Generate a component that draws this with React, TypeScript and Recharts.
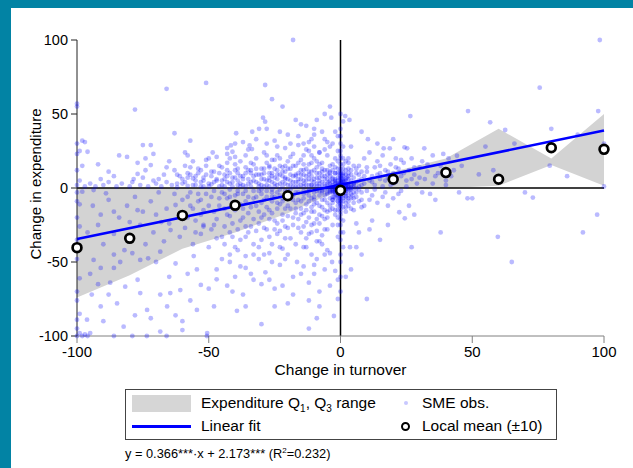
import React from 'react';
import {
  ComposedChart,
  Area,
  Line,
  Scatter,
  XAxis,
  YAxis,
  ReferenceLine,
} from 'recharts';

// Q1..Q3 band and local means, read every 20 points of turnover
const bandX = [-100, -80, -60, -40, -20, 0, 20, 40, 60, 80, 100];
const bandLow = [-74, -59, -41, -30, -17, -1, 0, 0, 1.5, 15.5, 1.5];
const bandHigh = [0, 0, 0, 0, 0, 1, 11, 20, 40, 20, 50];
const meanY = [-40.3, -34, -18.5, -11.7, -5.2, -1.6, 5.9, 10.4, 5.9, 27.2, 26.1];

// linear fit end points
const fitX = [-100, 100];
const fitY = [-34.4, 38.8];

const xTicks = [-100, -50, 0, 50, 100];
const yTicks = [-100, -50, 0, 50, 100];

const obsLeftUpper = [
  [-100, 57], [-100, 55], [-98, 32], [-97, 31], [-100, 30], [-99, 25], [-96, 24.5], [-100, 23], [-98, 15], [-100, 12],
  [-99, 5], [-100, 2], [-97, 1], [-95, 3], [-93, 1], [-78, 53], [-66, 67], [-51, 71], [-63, 37], [-57, 32],
  [-75, 29], [-72, 29], [-71, 23], [-81, 21], [-74, 20], [-59, 24], [-58, 22], [-50, 20], [-77, 17], [-72, 15.5],
  [-66, 14], [-57, 14], [-74, 12], [-63, 12], [-51, 15], [-51, 9], [-77, 9.5], [-67, 9], [-62, 9], [-61, 8],
  [-58, 7], [-56, 6.5], [-78.5, 6], [-75, 7], [-71, 5], [-90, 2], [-88, 4], [-85, 1], [-83, 3], [-80, 1],
  [-79, 4], [-76, 2], [-73, 1], [-70, 3], [-68, 1], [-66, 4], [-64, 2], [-62, 0.5], [-60, 3], [-58, 1.5],
  [-55, 2], [-53, 4], [-52, 1], [-49, 2.5], [-47, 5], [-46, 1], [-91, 6], [-86, 8], [-69, 6], [-54, 10],
  [-48, 11], [-65, 18], [-88, 11], [-92, 16], [-84, 22],
];

const obsMidUpper = [
  [-18, 100], [-28.6, 69.6], [-29.4, 47.5], [-28.6, 44.8], [-39.6, 37], [-33.5, 38], [-30.9, 40], [-3.5, 47.5], [1.8, 48.6], [-41.6, 28.8],
  [-34.5, 28.8], [-33.6, 26.3], [-8, 24], [-48.5, 24], [-47, 21], [-43, 23], [-41, 24.5], [-40, 21], [-45, 14], [-44, 6],
  [-43, 17], [-42, 3], [-42, 10], [-41, 1], [-40, 12], [-39, 5], [-38, 18], [-38, 8], [-37, 2], [-36, 14],
  [-36, 22], [-35, 6], [-34, 10], [-34, 1], [-33, 16], [-32, 4], [-32, 20], [-31, 9], [-30, 2], [-30, 13],
  [-29, 24], [-29, 6], [-28, 17], [-27, 1], [-27, 10], [-26, 4], [-26, 19], [-25, 13], [-25, 7], [-24, 2],
  [-24, 22], [-23, 9], [-23, 15], [-22, 4], [-22, 1], [-21, 11], [-21, 27], [-20, 6], [-20, 18], [-19, 2],
  [-19, 13], [-18, 8], [-18, 23], [-17, 4], [-17, 15], [-16, 1], [-16, 10], [-15, 19], [-15, 6], [-14, 3],
  [-14, 12], [-13, 8], [-13, 26], [-12, 2], [-12, 16], [-11, 5], [-11, 11], [-10, 1], [-10, 20], [-9, 7],
  [-9, 14], [-8, 3], [-8, 10], [-7, 1], [-7, 17], [-6, 6], [-6, 12], [-5, 3], [-5, 22], [-4, 8],
  [-4, 15], [-3, 2], [-3, 30], [-2, 10], [-2, 5], [-1, 18], [-1, 35], [-2, 38], [-4, 28], [-6, 33],
  [-12, 31], [-16, 29], [-25, 32], [-37, 31], [-20, 36], [-10, 40], [-15, 43],
];

// the thick strip just above and below the zero line
const obsStrip = [
  [-62, 3], [-60, 6], [-58, 10], [-56, 2], [-55, 8], [-53, 12], [-52, 5], [-50, 1], [-49, 8], [-48, 4],
  [-46, 10], [-45, 5], [-44, 1], [-43, 8], [-41, 4], [-40, 7], [-39, 13], [-38, 1], [-37, 6], [-36, 10],
  [-35, 3], [-33, 5], [-32, 9], [-31, 1], [-30, 6], [-29, 10], [-28, 2], [-27, 5], [-26, 8], [-25, 1],
  [-24, 9], [-23, 3], [-22, 11], [-21, 6], [-20, 2], [-19, 5], [-18, 1], [-17, 8], [-16, 4], [-15, 9],
  [-14, 1], [-13, 5], [-12, 9], [-11, 2], [-10, 6], [-9, 1], [-8, 5], [-7, 8], [-6, 3], [-5, 9],
  [-45, -3], [-42, -6], [-39, -4], [-36, -2], [-33, -7], [-30, -4], [-28, -2], [-26, -6], [-24, -3], [-22, -9],
  [-20, -2], [-18, -5], [-16, -8], [-14, -2], [-12, -5], [-10, -8], [-8, -2], [-6, -5], [-4, -3], [-3, -8],
  [-34, 12], [-27, 14], [-21, 15], [-14, 16], [-9, 18], [-7, 13], [-4, 11], [-3, 16], [-2, 20], [-11, 22],
];

const obsLeftLower = [
  [-100, -3], [-100, -9], [-99, -11], [-100, -20], [-99, -26], [-100, -35], [-100, -48], [-99, -61], [-100, -70], [-100, -76],
  [-99, -85], [-100, -89], [-100, -95], [-99, -98], [-100, -100], [-98, -100], [-96, -100], [-95, -98], [-97, -99], [-79, -100],
  [-73.5, -100], [-66, -100], [-50.7, -100], [-98, -2.5], [-93.7, -1.4], [-89, -3.6], [-91, -18], [-86, -16], [-80, -23], [-77, -15],
  [-75, -16], [-68, -23], [-64.5, -28.4], [-62.6, -11.5], [-58, -5.9], [-53, -8], [-52, -26], [-93.7, -48.6], [-91, -54], [-86, -54],
  [-83.6, -50], [-79, -44], [-76, -48.6], [-73, -47.5], [-68.4, -43], [-62.6, -51], [-55.7, -46], [-54.5, -55], [-87.4, -64], [-81.7, -66.7],
  [-76, -71], [-68.4, -72], [-64.6, -71], [-60.8, -69], [-53, -65.5], [-94.4, -72], [-91, -80], [-84.8, -78], [-78, -86], [-73.4, -82.4],
  [-65.8, -80], [-62.6, -86], [-54.5, -82.4], [-96.2, -89], [-90, -90], [-82.3, -93.7], [-68.4, -97], [-60, -96], [-96, -30], [-94, -12],
  [-92, -25], [-90, -38], [-88, -8], [-86, -31], [-84, -20], [-82, -42], [-81, -12], [-79, -33], [-78, -6], [-76, -25],
  [-74, -38], [-72, -9], [-71, -30], [-70, -18], [-69, -3], [-67, -36], [-66, -14], [-65, -24], [-63, -4], [-61, -33],
  [-60, -17], [-59, -27], [-57, -12], [-56, -38], [-55, -22], [-54, -4], [-53, -31], [-52, -15], [-50, -40], [-49, -6],
  [-48, -25], [-47, -34], [-46, -12], [-45, -48], [-86, -45], [-70, -50], [-58, -58], [-47, -55], [-95, -58], [-77, -62],
  [-65, -60], [-50, -68], [-92, -65], [-88, -72], [-72, -88], [-57, -76], [-48, -80], [-86, -100], [-60, -90],
];

const obsMidLower = [
  [-50.6, -98], [-2.5, -86.5], [-39.3, -83], [-37, -72], [-47, -61.7], [-40, -60], [-28.5, -57], [-16.5, -50], [-10, -52], [-3.2, -50],
  [-2, -56], [-14, -40], [-22, -41], [-27, -44], [-44, -4], [-43, -18], [-42, -30], [-41, -10], [-40, -40], [-39, -2],
  [-38, -22], [-37, -14], [-36, -33], [-35, -6], [-34, -26], [-33, -45], [-32, -12], [-31, -2], [-30, -20], [-30, -35],
  [-29, -8], [-28, -28], [-27, -15], [-26, -3], [-26, -38], [-25, -22], [-24, -10], [-24, -31], [-23, -5], [-22, -18],
  [-21, -26], [-21, -2], [-20, -12], [-19, -34], [-19, -7], [-18, -20], [-17, -3], [-17, -14], [-16, -27], [-15, -9],
  [-15, -18], [-14, -4], [-13, -23], [-13, -11], [-12, -2], [-12, -31], [-11, -7], [-11, -16], [-10, -3], [-10, -24],
  [-9, -10], [-9, -36], [-8, -5], [-8, -18], [-7, -2], [-7, -13], [-6, -28], [-6, -8], [-5, -4], [-5, -20],
  [-4, -12], [-4, -44], [-3, -6], [-3, -25], [-2, -15], [-2, -3], [-1, -9], [-1, -33], [-43, -66], [-36, -54],
  [-33, -62], [-31, -48], [-25, -68], [-23, -52], [-20, -78], [-18, -60], [-12, -64], [-8, -70], [-6, -45], [-1, -62],
  [-1, -75], [-30, -92], [-12, -95], [-42, -50],
];

// the dense cloud between -60 and -5
const obsCloud = [
  [-60, -8], [-59, 4], [-59, 15], [-58, -20], [-57, -3], [-57, 9], [-56, -14], [-56, 18], [-55, -30], [-55, 5],
  [-54, -9], [-54, 13], [-53, -18], [-53, 1], [-52, -25], [-52, 7], [-51, -4], [-51, 19], [-50, -12], [-50, 3],
  [-49, -28], [-49, 11], [-48, -16], [-48, -2], [-47, 6], [-47, -21], [-46, 15], [-46, -7], [-45, -33], [-45, 2],
  [-44, -14], [-44, 9], [-44, -26], [-43, 4], [-43, -7], [-43, 12], [-42, -19], [-42, -1], [-42, 20], [-41, -33],
  [-41, 7], [-41, -24], [-40, -5], [-40, 16], [-40, -15], [-39, 2], [-39, -28], [-39, 10], [-38, -11], [-38, -35],
  [-38, 3], [-37, -20], [-37, 8], [-37, -4], [-36, -26], [-36, 1], [-36, -9], [-35, 12], [-35, -17], [-35, -30],
  [-34, 4], [-34, -13], [-34, 17], [-33, -2], [-33, -21], [-33, 8], [-32, -29], [-32, -6], [-32, 13], [-31, -16],
  [-31, 3], [-31, -24], [-30, 9], [-30, -10], [-30, -1], [-44, -38], [-42, -45], [-39, -42], [-36, -46], [-33, -38],
  [-31, -40], [-43, 27], [-40, 30], [-35, 26], [-32, 33], [-38, -53], [-34, -58], [-41, -70], [-36, -80], [-30, -65],
  [-29, -18], [-29, 1], [-29, 13], [-29, -27], [-28, -6], [-28, 5], [-28, 22], [-28, -13], [-27, -33], [-27, 7],
  [-27, -21], [-27, 15], [-26, -9], [-26, -1], [-26, 10], [-26, -17], [-25, -28], [-25, 3], [-25, -6], [-25, 19],
  [-24, -14], [-24, 6], [-24, -24], [-24, 12], [-23, -1], [-23, -11], [-23, 20], [-23, -29], [-22, 8], [-22, -7],
  [-22, -22], [-22, 14], [-21, -14], [-21, 3], [-21, -34], [-21, 7], [-20, -4], [-20, -19], [-20, 13], [-20, -27],
  [-19, -1], [-19, 9], [-19, -14], [-19, 21], [-18, -8], [-18, 4], [-18, -25], [-18, 15], [-17, -17], [-17, 9],
  [-17, -10], [-17, 1], [-16, -3], [-16, -21], [-16, 6], [-16, 17], [-15, -14], [-15, -30], [-15, 2], [-15, 12],
  [-29, -45], [-26, -50], [-23, -40], [-20, -45], [-17, -38], [-28, 30], [-24, 28], [-19, 30], [-16, 35], [-27, -62],
  [-22, -66], [-18, -72], [-25, -80], [-15, -58], [-21, -48], [-28, 40], [-23, 38], [-17, 46], [-22, 55], [-26, 60],
  [-14, -7], [-14, -17], [-14, 5], [-14, 9], [-14, -26], [-13, -3], [-13, 2], [-13, -15], [-13, 13], [-13, -34],
  [-12, -9], [-12, 6], [-12, -20], [-12, 11], [-12, -1], [-11, -13], [-11, 2], [-11, -25], [-11, 8], [-11, 17],
  [-10, -6], [-10, -16], [-10, 4], [-10, 12], [-10, -11], [-9, -2], [-9, -21], [-9, 3], [-9, 10], [-9, -29],
  [-8, -12], [-8, 1], [-8, 7], [-8, -24], [-8, 16], [-7, -8], [-7, -19], [-7, 4], [-7, 11], [-7, -3],
  [-6, -15], [-6, 1], [-6, -1], [-6, 8], [-6, -21], [-5, -10], [-5, 6], [-5, -16], [-5, 12], [-5, 1],
  [-14, 22], [-12, 25], [-10, 28], [-8, 24], [-6, 26], [-11, 33], [-7, 38], [-5, 31], [-13, -40], [-11, -45],
  [-9, -48], [-7, -38], [-5, -42], [-14, -53], [-10, -58], [-6, -55], [-8, -80], [-4, -66], [-12, -76], [-9, -88],
  [-13, 42], [-9, 46], [-6, 50], [-4, 55], [-11, -30], [-7, -32], [-14, 30], [-5, -28], [-8, -36], [-10, 36],
];

const obsCentre = [
  [0, 0], [0, 2], [0, -2], [1, 1], [-1, -1], [1, -3], [-1, 3], [2, 0], [-2, 1], [0, 5],
  [0, -5], [2, -2], [-2, -4], [1, 4], [3, 1], [-3, -1], [0, 8], [0, -8], [2, 6], [-2, 6],
  [3, -5], [-3, 4], [1, -7], [-1, 7], [4, 2], [-4, -2], [0, 11], [0, -11], [2, 9], [-1, -12],
  [3, 8], [-3, -8], [4, -4], [-4, 5], [1, 13], [0, -14], [5, 0], [-5, 0], [2, -10], [-2, 10],
  [0, 16], [0, -18], [1, 20], [-1, -20], [3, 13], [-3, -14], [0, 25], [0, -25], [2, -16], [0, 30],
  [0, -30], [1, -40], [0, 40], [4, 9], [5, -7], [0.5, 0.5], [-0.5, -0.5], [1.5, -1], [-1.5, 1.5], [0.5, 3],
  [-0.5, -3], [2.5, 2.5], [-2.5, -2.5], [1, 6], [-1, -6], [-4, -1], [-4, 3], [-4, -7], [-4, 10], [-4, -15],
  [-3, 0], [-3, -3], [-3, 7], [-3, -10], [-3, 12], [-2, -1], [-2, 3], [-2, -7], [-2, 14], [-2, -18],
  [-1, 0], [-1, 2], [-1, -3], [-1, 5], [-1, 10], [-1, -15], [-1, 13], [0, 1], [0, -1], [0, 3],
  [0, -3], [0, 4], [0, -4], [0, 6], [0, -6], [0, 7], [0, -7], [0, 9], [0, -9], [0, 10],
  [0, -10], [0, 13], [0, -12], [0, 20], [0, -21], [0, 22], [0, -16], [0, 35], [0, -35], [0, -45],
  [0, 50], [0, -60], [1, 0], [1, 2], [1, -1], [1, 3], [1, -5], [1, 8], [1, -9], [1, 10],
  [1, -13], [1, 16], [1, -22], [2, 1], [2, -1], [2, 3], [2, -4], [2, 5], [2, -7], [2, 12],
  [2, -13], [2, 18], [3, 0], [3, -2], [3, 3], [3, 6], [3, -9], [3, 10], [3, -12], [3, 17],
  [4, 0], [4, -1], [4, 5], [4, -7], [4, 12], [4, -14], [5, 2], [5, -3], [5, 7], [5, -10],
  [5, 15], [6, 0], [6, 4], [6, -6], [6, 13], [7, -1], [7, 5], [7, -9], [7, 9], [8, 2],
  [8, -3], [8, 11], [8, -13], [-1, -25], [1, -30], [-1, 25], [1, 28], [0, -50], [0, -70], [1, 45],
];

// the dark blob right at the origin
const obsCore = [
  [0, 0.5], [0, -0.5], [0.5, 1.5], [-0.5, -1.5], [1, -2], [-1, 2], [1.5, 0.5], [-1.5, -0.5], [2, 1.5], [-2, -1.5],
  [0.5, -2.5], [-0.5, 2.5], [2.5, -0.5], [-2.5, 0.5], [3, 2], [-3, -2], [1, 5], [-1, -5], [3.5, -1.5], [-3.5, 1.5],
  [0, 3.5], [0, -3.5], [1.5, 4.5], [-1.5, -4.5], [2, -5.5], [-2, 4.5], [4, 0.5], [-4, 0.5], [0.5, 6.5], [-0.5, -6.5],
  [2.5, 7], [-2.5, -6], [3, -7], [-3, 6], [5, 3], [-5, -3], [1, 9], [-1, -9], [4.5, -5], [-4.5, 4],
  [0, 1.2], [0, -1.2], [0.8, 0], [-0.8, 0], [1.2, 2.2], [-1.2, -2.2], [0.3, 4.2], [-0.3, -4.2], [1.8, -3.2], [-1.8, 3.2],
];

const obsRight = [
  [98.4, 100], [75.6, 67.8], [48.4, 52], [26.5, 48.6], [97.8, 52], [56.8, 44.4], [62.5, 39.2], [10.4, 33], [3.4, 46], [16.4, 26.8],
  [18.7, 26.8], [24.3, 27.5], [25.3, 26.8], [31.8, 26.8], [44.2, 21.8], [52.5, 9.2], [79.4, 15.1], [100, 30], [100, 1], [48.2, -7],
  [50, -7], [73, -6.5], [97.4, -18], [59.7, -33], [22.3, -16.4], [24.4, -20.5], [3.6, -40], [5, 3], [6, 10], [6, -3],
  [7, 15], [7, 1], [8, 6], [8, -8], [9, 20], [9, 3], [10, 11], [10, -2], [11, 5], [11, 24],
  [12, 8], [12, -5], [13, 14], [13, 2], [14, 18], [14, -10], [15, 6], [15, 10], [16, 1], [16, 22],
  [17, 12], [17, -3], [18, 7], [19, 16], [19, 2], [20, 10], [20, -7], [21, 20], [21, 4], [22, 13],
  [23, 8], [23, -2], [24, 17], [25, 5], [26, 12], [26, -12], [27, 20], [28, 9], [29, 3], [30, 14],
  [31, 18], [32, 6], [33, 11], [34, -4], [35, 22], [36, 8], [38, 15], [40, 5], [41, 20], [43, 12],
  [45, -3], [3, 20], [4, 28], [5, -15], [6, -24], [7, -30], [9, -12], [12, -22], [4, -55], [2, -60],
  [8, -45], [15, -35], [10, -75], [38, -30], [27, -40], [58, 12], [66, 30], [70, -3], [86, 8], [90, 36],
  [55, 28], [80, 40], [92, -30], [65, -50], [40, 2], [36, -8], [9, 8], [10, 14], [11, -8], [12, 4],
  [13, -1], [14, 9], [15, 15], [16, -6], [17, 5], [18, 11], [18, -12], [19, 7], [20, 3], [21, 14],
  [22, -4], [23, 19], [24, 10], [25, 1], [27, 6], [28, 14], [30, 7], [31, -3], [33, 16], [35, 3],
  [37, 10], [39, 23], [42, 8], [46, 15], [28, -18], [18, -25], [11, -28], [6, -40], [14, 30], [20, 33],
  [8, 38],
];

const FONT = '"Liberation Sans", Arial, sans-serif';

const rows = bandX.map((x, i) => {
  const fi = fitX.indexOf(x);
  return { x, band: [bandLow[i], bandHigh[i]], fit: fi >= 0 ? fitY[fi] : null };
});
const means = bandX.map((x, i) => ({ x, y: meanY[i] }));
const obs = [
  ...obsLeftUpper, ...obsMidUpper, ...obsStrip, ...obsLeftLower, ...obsMidLower,
  ...obsCloud, ...obsCentre, ...obsCore, ...obsRight,
].map(([x, y]) => ({ x, y }));

const ObsDot = (props: any) => (
  <circle cx={props.cx} cy={props.cy} r={2.4} fill="#0000ff" fillOpacity={0.27} />
);
const MeanDot = (props: any) => (
  <circle cx={props.cx} cy={props.cy} r={4.4} fill="#fff" stroke="#000" strokeWidth={2.7} />
);

const YTitle = (props: any) => {
  const vb = props.viewBox || {};
  const cx = vb.x + 24;
  const cy = vb.y + vb.height / 2 - 4;
  return (
    <text x={cx} y={cy} transform={`rotate(-90 ${cx} ${cy})`} textAnchor="middle" dominantBaseline="central"
      fontSize={15} fill="#000" fontFamily={FONT}>
      Change in expenditure
    </text>
  );
};

export default function App() {
  return (
    <div style={{ position: 'absolute', left: 0, top: 0, width: 633, height: 468, background: '#0283a4' }}>
      <div style={{ position: 'absolute', left: 11, top: 8, width: 622, height: 460, background: '#fff', fontFamily: FONT }}>
        <ComposedChart width={622} height={460} data={rows} margin={{ top: 32, right: 29, bottom: 106, left: 0 }}>
          <XAxis
            type="number"
            dataKey="x"
            domain={[-100, 100]}
            ticks={xTicks}
            stroke="#808080"
            tickSize={7}
            tickMargin={3}
            height={26}
            tick={{ fill: '#000', fontSize: 15, fontFamily: FONT }}
            label={{ value: 'Change in turnover', position: 'bottom', offset: 2, fill: '#000', fontSize: 15.5, fontFamily: FONT }}
          />
          <YAxis
            type="number"
            domain={[-100, 100]}
            ticks={yTicks}
            width={66}
            stroke="#222"
            tickSize={6}
            tickMargin={3}
            tick={{ fill: '#000', fontSize: 14.5, fontFamily: FONT }}
            label={<YTitle />}
          />
          <Area
            dataKey="band"
            type="linear"
            fill="#d3d3d3"
            fillOpacity={1}
            stroke="none"
            isAnimationActive={false}
          />
          <ReferenceLine y={0} stroke="#000" strokeWidth={1.5} />
          <ReferenceLine x={0} stroke="#000" strokeWidth={1.5} />
          <Scatter data={obs} dataKey="y" shape={ObsDot} isAnimationActive={false} />
          <Line
            dataKey="fit"
            type="linear"
            stroke="#0000ff"
            strokeWidth={2.5}
            dot={false}
            connectNulls
            isAnimationActive={false}
          />
          <Scatter data={means} dataKey="y" shape={MeanDot} isAnimationActive={false} />
        </ComposedChart>

        <div style={{ position: 'absolute', left: 114, top: 381, width: 430, height: 49, border: '1px solid #444', fontSize: 15.5, color: '#000' }}>
          <div style={{ position: 'absolute', left: 6, top: 5, width: 59, height: 17, background: '#d6d6d6' }} />
          <div style={{ position: 'absolute', left: 75, top: 4, lineHeight: '18px', whiteSpace: 'nowrap' }}>
            Expenditure Q<sub style={{ fontSize: 10 }}>1</sub>, Q<sub style={{ fontSize: 10 }}>3</sub> range
          </div>
          <div style={{ position: 'absolute', left: 278, top: 11, width: 4, height: 4, borderRadius: 2, background: '#c8c8ff' }} />
          <div style={{ position: 'absolute', left: 296, top: 4, lineHeight: '18px', whiteSpace: 'nowrap' }}>SME obs.</div>
          <div style={{ position: 'absolute', left: 6, top: 35, width: 59, height: 3, background: '#0000ff' }} />
          <div style={{ position: 'absolute', left: 75, top: 27, lineHeight: '18px', whiteSpace: 'nowrap' }}>Linear fit</div>
          <div style={{ position: 'absolute', left: 275, top: 32, width: 5, height: 5, borderRadius: 5, border: '2px solid #000' }} />
          <div style={{ position: 'absolute', left: 296, top: 27, lineHeight: '18px', whiteSpace: 'nowrap' }}>Local mean (±10)</div>
        </div>
        <div style={{ position: 'absolute', left: 114, top: 436, fontSize: 12.8, lineHeight: '14px', whiteSpace: 'nowrap', color: '#000' }}>
          y = 0.366***·x + 2.173*** (R<sup style={{ fontSize: 8 }}>2</sup>=0.232)
        </div>
      </div>
    </div>
  );
}
